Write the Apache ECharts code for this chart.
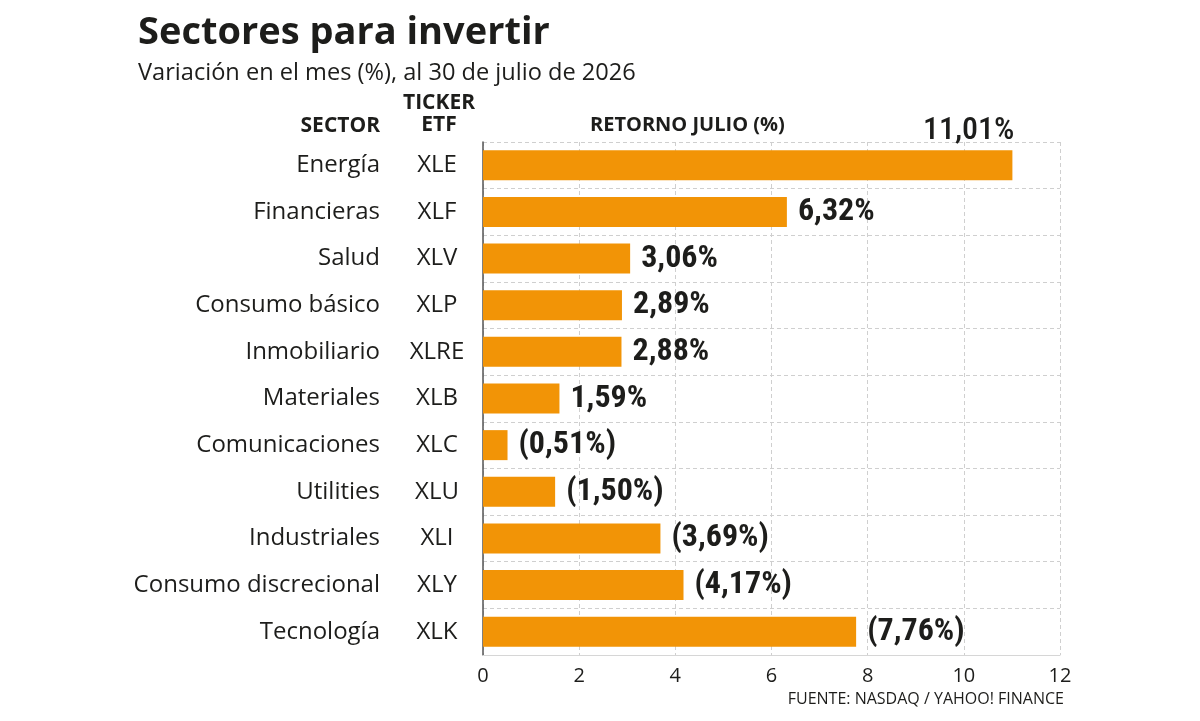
<!DOCTYPE html>
<html>
<head>
<meta charset="utf-8">
<script src="https://cdn.jsdelivr.net/npm/echarts@6/dist/echarts.min.js"></script>
<style>
html,body{margin:0;padding:0;background:#fff;}
#chart{width:1200px;height:721px;}
</style>
</head>
<body>
<div id="chart"></div>
<script>
const sectors = ['Energía','Financieras','Salud','Consumo básico','Inmobiliario','Materiales','Comunicaciones','Utilities','Industriales','Consumo discrecional','Tecnología'];
const tickers = ['XLE','XLF','XLV','XLP','XLRE','XLB','XLC','XLU','XLI','XLY','XLK'];
const returns = [11.01, 6.32, 3.06, 2.89, 2.88, 1.59, -0.51, -1.50, -3.69, -4.17, -7.76];
const xTicks = [0, 2, 4, 6, 8, 10, 12];

const BAR = '#F29406';
const INK = '#1d1d1b';
const LABEL_FONT = '"Roboto Condensed","Liberation Sans Narrow",Roboto,sans-serif';
const TEXT_FONT = '"Open Sans",sans-serif';

function fmt(v){
  const s = Math.abs(v).toFixed(2).replace('.', ',') + '%';
  return v < 0 ? '(' + s + ')' : s;
}

const barData = returns.map((v, i) => {
  const item = { value: Math.abs(v), raw: v };
  if (i === 0) {
    item.label = { position: ['100%', 0], align: 'right', verticalAlign: 'bottom', offset: [2, -3], fontWeight: 500 };
  }
  return item;
});

const chart = echarts.init(document.getElementById('chart'));
chart.setOption({
  animation: false,
  backgroundColor: '#fff',
  title: {
    text: 'Sectores para invertir',
    subtext: 'Variación en el mes (%), al 30 de julio de 2026',
    left: 133, top: 9,
    itemGap: 9,
    textStyle: { fontFamily: TEXT_FONT, fontWeight: 'bold', fontSize: 38, color: INK },
    subtextStyle: { fontFamily: TEXT_FONT, fontSize: 23.6, color: INK }
  },
  grid: { left: 483, right: 140, top: 142, bottom: 66 },
  xAxis: {
    type: 'value', min: 0, max: 12, interval: 2,
    axisLine: { show: true, lineStyle: { color: '#d6d6d6', width: 1 } },
    axisTick: { show: false },
    axisLabel: { fontFamily: TEXT_FONT, fontSize: 20, color: INK, margin: 11,
      formatter: v => xTicks.includes(v) ? String(v) : '' },
    splitLine: { show: true, lineStyle: { color: '#cfcfcf', type: [4, 3], width: 1 } }
  },
  yAxis: [
    {
      type: 'category', data: sectors, inverse: true,
      axisLine: { show: true, lineStyle: { color: '#555', width: 1.5 } },
      axisTick: { show: false },
      axisLabel: { fontFamily: TEXT_FONT, fontSize: 24, color: INK, margin: 103 },
      splitLine: { show: true, lineStyle: { color: '#cfcfcf', type: [4, 3], width: 1 } }
    },
    {
      type: 'category', data: tickers, inverse: true, position: 'left',
      axisLine: { show: false }, axisTick: { show: false },
      axisLabel: { fontFamily: TEXT_FONT, fontSize: 24, color: INK, margin: 46, align: 'center' },
      splitLine: { show: false }
    }
  ],
  series: [{
    type: 'bar', yAxisIndex: 0, data: barData, barWidth: 30,
    itemStyle: { color: BAR },
    label: {
      show: true, position: 'right', distance: 11,
      fontFamily: LABEL_FONT, fontWeight: 'bold', fontSize: 32, color: INK,
      formatter: p => fmt(p.data.raw)
    }
  }],
  graphic: [
    { type: 'text', x: 380, y: 116, style: { text: 'SECTOR', font: 'bold 21px "Open Sans",sans-serif', fill: INK, align: 'right' } },
    { type: 'text', x: 439, y: 92, style: { text: 'TICKER\nETF', font: 'bold 21px "Open Sans",sans-serif', fill: INK, align: 'center', lineHeight: 22 } },
    { type: 'text', left: 590, top: 115, style: { text: 'RETORNO JULIO (%)', font: 'bold 20px "Open Sans",sans-serif', fill: INK } },
    { type: 'text', right: 136, top: 691, style: { text: 'FUENTE: NASDAQ / YAHOO! FINANCE', font: '16px "Open Sans",sans-serif', fill: INK } }
  ]
});
</script>
</body>
</html>
